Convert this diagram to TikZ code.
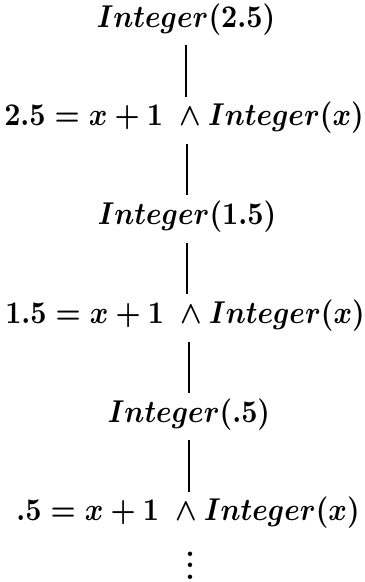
\documentclass[tikz,border=0pt]{standalone}
\usepackage{graphicx}
\newcommand{\tallmath}[1]{\scalebox{1}[1.12]{$#1$}}
\begin{document}
\begin{tikzpicture}[x=0.355pt,y=-0.355pt,
  lbl/.style={inner sep=0pt, anchor=base, font=\boldmath},
  conn/.style={line width=0.9pt, shorten <=3.5pt, shorten >=1.7pt}]
\useasboundingbox (0,0) rectangle (364,582);
\node[lbl] (i1) at (186,27) {\tallmath{Integer(2.5)}};
\node[lbl] (e1) at (184,125.75) {\tallmath{2.5=x+1\;\wedge Integer(x)}};
\node[lbl] (i2) at (187,224.5) {\tallmath{Integer(1.5)}};
\node[lbl] (e2) at (185,323.25) {\tallmath{1.5=x+1\;\wedge Integer(x)}};
\node[lbl] (i3) at (189,422) {\tallmath{Integer(.5)}};
\node[lbl] (e3) at (188,520.75) {\tallmath{.5=x+1\;\wedge Integer(x)}};
\node[inner sep=0pt, anchor=base, font=\bfseries\boldmath] (d) at (190,579) {$\vdots$};
\draw[conn] (i1.south) -- (i1.south |- e1.north);
\draw[conn] (e1.south -| i2.north) -- (i2.north);
\draw[conn] (i2.south) -- (i2.south |- e2.north);
\draw[conn] (e2.south -| i3.north) -- (i3.north);
\draw[conn] (i3.south) -- (i3.south |- e3.north);
\end{tikzpicture}
\end{document}
